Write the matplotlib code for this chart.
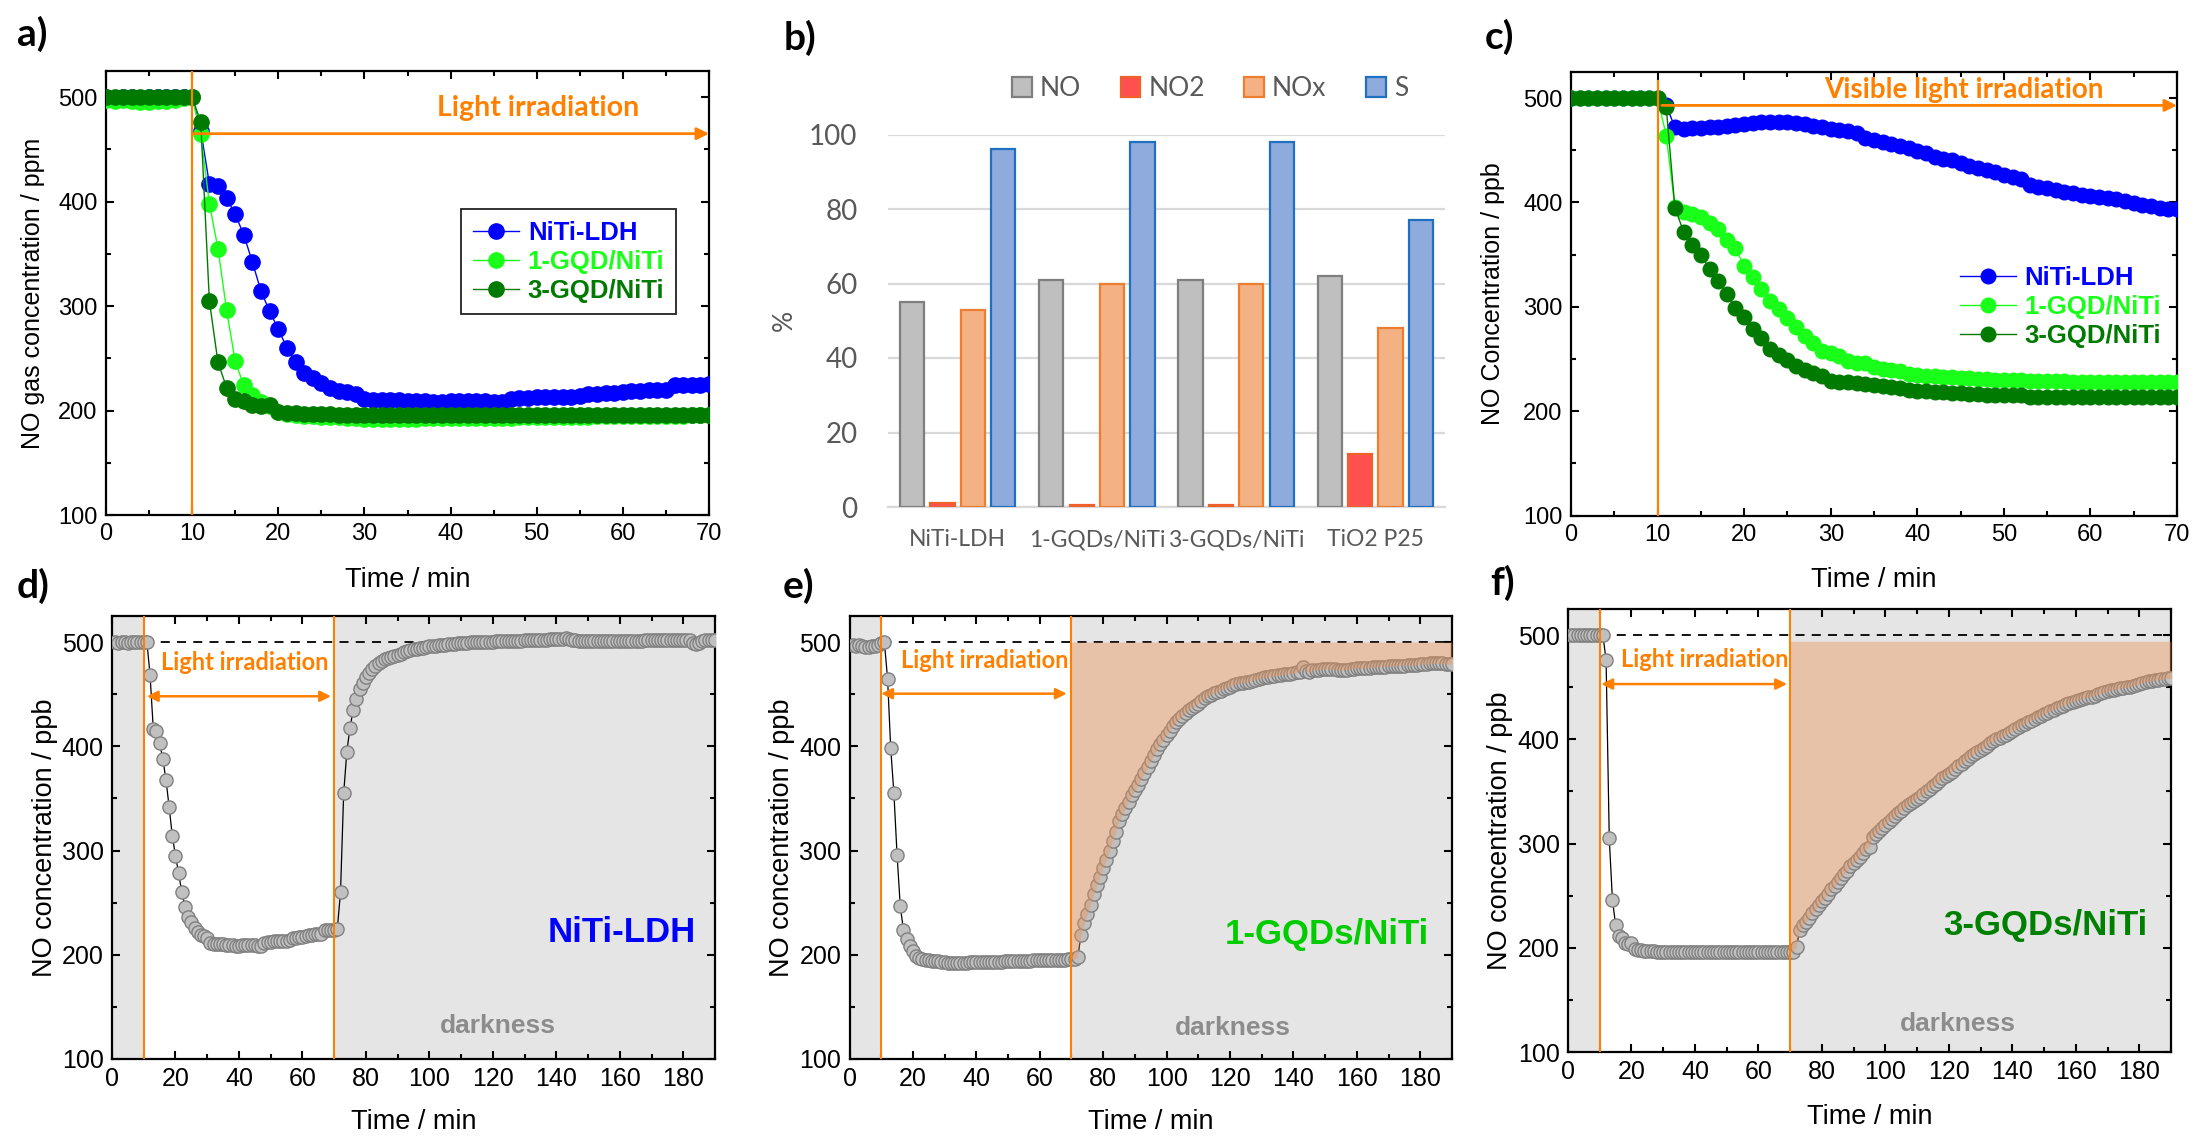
import numpy as np
import matplotlib
matplotlib.use("Agg")
import matplotlib.pyplot as plt
from matplotlib.ticker import MultipleLocator
from matplotlib.lines import Line2D
from matplotlib.patches import Patch
from matplotlib.font_manager import FontProperties

plt.rcParams['font.family'] = ['Liberation Sans', 'DejaVu Sans']

# ---------------------------------------------------------------- data
minutes = np.arange(0, 71)          # panels a and c (one reading per minute)
minutes_long = np.arange(1, 191)    # panels d, e, f

# a) NO gas concentration (ppm) under light irradiation
a_niti_ldh = [500, 499, 500, 500, 499, 500, 500, 500, 500, 500, 500,
              468, 417, 415, 403, 388, 368, 342, 314, 295, 278,
              260, 246, 236, 231, 226, 222, 219, 218, 216, 211,
              210, 210, 210, 210, 209, 209, 209, 208, 208, 209,
              209, 209, 209, 209, 208, 208, 211, 212, 212, 213,
              213, 213, 213, 213, 214, 216, 216, 217, 217, 218,
              219, 219, 220, 220, 220, 224, 224, 224, 224, 225]
a_1gqd = [497, 496, 497, 496, 495, 495, 496, 496, 497, 499, 500,
          465, 398, 355, 296, 247, 224, 215, 208, 204, 199,
          197, 196, 195, 195, 194, 194, 194, 193, 193, 192,
          192, 192, 192, 192, 192, 192, 193, 193, 193, 193,
          193, 193, 193, 193, 193, 193, 193, 194, 194, 194,
          194, 194, 194, 194, 194, 194, 195, 195, 195, 195,
          195, 195, 195, 195, 195, 195, 195, 196, 196, 196]
a_3gqd = [500, 500, 500, 500, 500, 500, 500, 500, 500, 500, 500,
          476, 305, 246, 222, 211, 209, 205, 204, 205, 199,
          198, 198, 197, 197, 197, 197, 196, 196, 196, 196,
          196, 196, 196, 196, 196, 196, 196, 196, 196, 196,
          196, 196, 196, 196, 196, 196, 196, 196, 196, 196,
          196, 196, 196, 196, 196, 196, 196, 196, 196, 196,
          196, 196, 196, 196, 196, 196, 196, 196, 196, 196]

# c) NO concentration (ppb) under visible light
c_niti_ldh = [500, 500, 500, 500, 500, 500, 500, 500, 500, 500, 500,
              493, 472, 470, 471, 471, 472, 472, 473, 474, 475,
              476, 477, 477, 477, 477, 476, 475, 473, 472, 470,
              469, 468, 467, 462, 460, 458, 456, 454, 452, 449,
              447, 444, 442, 441, 438, 435, 433, 431, 429, 426,
              424, 422, 417, 415, 414, 412, 410, 409, 407, 406,
              405, 404, 403, 401, 399, 398, 397, 395, 394, 394]
c_1gqd = [500, 500, 500, 500, 500, 500, 500, 500, 500, 500, 500,
          464, 396, 391, 389, 386, 380, 375, 364, 356, 339,
          329, 317, 306, 298, 289, 281, 272, 265, 258, 256,
          253, 248, 246, 246, 242, 240, 239, 238, 236, 235,
          234, 234, 233, 233, 232, 232, 231, 231, 230, 230,
          230, 230, 229, 229, 229, 229, 229, 228, 228, 228,
          228, 228, 228, 228, 228, 228, 228, 228, 228, 228]
c_3gqd = [500, 500, 500, 500, 500, 500, 500, 500, 500, 500, 500,
          491, 395, 372, 359, 350, 336, 325, 312, 299, 290,
          279, 270, 260, 254, 249, 243, 239, 237, 234, 229,
          228, 228, 227, 226, 225, 224, 223, 222, 220, 219,
          219, 218, 218, 217, 217, 216, 216, 215, 215, 215,
          215, 215, 214, 214, 214, 214, 214, 214, 214, 214,
          214, 214, 214, 214, 214, 214, 214, 214, 214, 214]

# d-f) recovery in darkness, minutes 72..190
dark_niti_ldh = [260, 355, 395, 418, 435, 445, 455, 461, 466,
                 470, 474, 477, 480, 482, 484, 485, 486, 487, 488,
                 489, 490, 491, 492, 493, 493.5, 494, 494.5, 495, 496,
                 496, 496.5, 497, 497, 497.5, 498, 498, 498.5, 499, 499,
                 499.5, 499.5, 500, 500, 500, 500, 500.5, 500.5, 500.5, 500.5,
                 501, 501, 501, 501, 501, 501, 501, 501, 501, 501.5,
                 501.5, 501.5, 501.5, 502, 502, 502, 502, 502.5, 502.5, 503,
                 503, 503, 504, 503, 502, 501.5, 501, 501, 501, 501,
                 501, 501, 501, 501, 501, 501, 501, 501, 501, 501,
                 501, 501, 501, 501, 501, 501, 501, 501.5, 501.5, 501.5,
                 501.5, 501.5, 501.5, 501.5, 501.5, 501.5, 501.5, 502, 502, 502,
                 502, 501.5, 499, 498.5, 499.5, 501, 501.5, 501.5, 501.5, 501.5]
dark_1gqd = [198, 219, 230, 239, 248, 258, 267, 275, 283,
             291, 300, 309, 318, 328, 335, 341, 347, 353, 358,
             363, 369, 374, 380, 386, 392, 397, 402, 406, 411,
             415, 419, 423, 426, 429, 432, 435, 437, 439, 441,
             443.5, 446, 448, 449.5, 451, 452, 453.5, 455, 456, 457,
             458.5, 460, 460.5, 461, 461.5, 462, 463, 464, 465, 465.5,
             466, 466.5, 467, 467.5, 468, 468.5, 469, 469.5, 469.5, 470,
             471, 471.5, 476, 472, 471, 473, 473.5, 473.5, 474, 474,
             474, 474, 474, 473.5, 473, 473.5, 473.5, 474, 474.5, 475,
             475, 475, 475, 475.5, 476, 476, 476.5, 476.5, 476.5, 477,
             477, 477, 477.5, 477.5, 477.5, 478, 478, 478, 478, 478.5,
             479, 479, 479.5, 479.5, 479.5, 480, 479.5, 479, 479, 479]
dark_3gqd = [201, 217, 222, 225, 229, 233, 237, 241, 245,
             248, 252, 256, 259, 263, 267, 271, 274, 278, 281,
             284, 287, 291, 295, 297, 306, 309, 312, 315, 318,
             321, 324, 326, 329, 331, 334, 336.5, 339, 341, 343,
             345, 347.5, 350, 352.5, 355, 357.5, 360, 362.5, 365, 367,
             369, 371.5, 374, 376.5, 379, 381.5, 384, 386, 388, 390,
             392, 394, 396, 398, 400, 401.5, 403, 404.5, 406, 407.5,
             409.5, 411.5, 413.5, 415, 416.5, 418, 419.5, 421, 422.5, 424,
             425.5, 427, 428.5, 430, 431, 432, 433.5, 435, 436, 437,
             438, 439, 440, 440.5, 441, 442, 443, 444, 445, 446,
             447, 447.5, 448, 449, 449.5, 450, 450.5, 451, 452, 453,
             454, 455, 455.5, 456, 456.5, 457, 457.5, 458, 458.5, 458.5]
stored_top_1gqd = 500
stored_top_3gqd = 494

# b) conversion / selectivity (%)
catalysts = ['NiTi-LDH', '1-GQDs/NiTi', '3-GQDs/NiTi', 'TiO2 P25']
no_conv = [55, 61, 61, 62]
no2_conv = [1.2, 0.6, 0.5, 14.2]
nox_conv = [53, 60, 60, 48]
selectivity = [96, 98, 98, 77]

series_names = ['NiTi-LDH', '1-GQD/NiTi', '3-GQD/NiTi']

# ---------------------------------------------------------------- style
BLUE = '#0000FF'
LIME = '#1AFF1A'
DGREEN = '#007A00'
ORANGE = '#FF8000'
BG_GRAY = '#E5E5E5'
XL_GRAY = '#595959'

W, H = 2208, 1136
fig = plt.figure(figsize=(W / 100, H / 100), dpi=100)


def px_axes(left, top, right, bottom):
    return fig.add_axes([left / W, 1 - bottom / H, (right - left) / W, (bottom - top) / H])


def origin_style(ax, xmajor, xminor, xmax, fs):
    ax.set_xlim(0, xmax)
    ax.set_ylim(100, 525)
    ax.xaxis.set_major_locator(MultipleLocator(xmajor))
    ax.xaxis.set_minor_locator(MultipleLocator(xminor))
    ax.yaxis.set_major_locator(MultipleLocator(100))
    ax.yaxis.set_minor_locator(MultipleLocator(50))
    ax.tick_params(which='both', direction='in', top=True, right=True, width=1.5,
                   labelsize=fs, pad=6)
    ax.tick_params(which='major', length=6)
    ax.tick_params(which='minor', length=3.5)
    for sp in ax.spines.values():
        sp.set_linewidth(1.6)


def panel_label(x, y, s):
    fig.text(x / W, 1 - y / H, s, ha='center', va='center', fontsize=28,
             fontweight='bold', family=['Lato', 'DejaVu Sans'])


# ---------------------------------------------------------------- a)
ax_a = px_axes(106, 71, 709, 515)
origin_style(ax_a, 10, 5, 70, 17)
for vals, col in zip([a_niti_ldh, a_1gqd, a_3gqd], [BLUE, LIME, DGREEN]):
    ax_a.plot(minutes, vals, '-o', color=col, lw=1, ms=11, mec=col, zorder=3)
ax_a.axvline(10, color=ORANGE, lw=1.6, zorder=4)
ax_a.annotate('', xy=(70, 465), xytext=(10, 465),
              arrowprops=dict(arrowstyle='-|>', color=ORANGE, lw=2,
                              mutation_scale=18, shrinkA=0, shrinkB=0), zorder=4)
ax_a.text(50.2, 489.6, 'Light irradiation', ha='center', va='center', color=ORANGE,
          fontsize=20.5, fontweight='bold', family=['Lato', 'DejaVu Sans'])
ax_a.set_xlabel('Time / min', fontsize=19.5, va='center')
ax_a.xaxis.set_label_coords(0.5, -0.146)
ax_a.set_ylabel('NO gas concentration / ppm', fontsize=18, va='center')
ax_a.yaxis.set_label_coords(-0.121, 0.5)

handles_a = [Line2D([], [], color=c, marker='o', ms=11, mec=c, lw=1)
             for c in [BLUE, LIME, DGREEN]]
leg_a = ax_a.legend(handles_a, series_names, loc='upper left',
                    bbox_to_anchor=(461 / W, 1 - 209 / H), bbox_transform=fig.transFigure,
                    frameon=True, fancybox=False, edgecolor='#222222', framealpha=1,
                    prop=FontProperties(family='Liberation Sans', weight='bold', size=18.5),
                    handlelength=1.8, handletextpad=0.35, borderpad=0.45, labelspacing=0.2,
                    borderaxespad=0)
leg_a.get_frame().set_linewidth(1.3)
for txt, c in zip(leg_a.get_texts(), [BLUE, LIME, DGREEN]):
    txt.set_color(c)

# ---------------------------------------------------------------- b)
ax_b = px_axes(888, 134.5, 1445, 507)
xpos = np.arange(len(catalysts))
bw = 0.174
step = 0.218
bar_specs = [(no_conv, '#BFBFBF', '#7F7F7F', 'NO'),
             (no2_conv, '#FF5050', '#F0602A', 'NO2'),
             (nox_conv, '#F4B183', '#ED7D31', 'NOx'),
             (selectivity, '#8FAADC', '#1F70C1', 'S')]
for k, (vals, fc, ec, lab) in enumerate(bar_specs):
    ax_b.bar(xpos + (k - 1.5) * step, vals, width=bw, color=fc, edgecolor=ec,
             linewidth=1.6, zorder=3, label=lab)
ax_b.set_xlim(-0.5, 3.5)
ax_b.set_ylim(0, 100)
ax_b.set_yticks(np.arange(0, 101, 20))
ax_b.yaxis.grid(True, color='#D9D9D9', lw=1.6)
ax_b.set_axisbelow(True)
for side in ['left', 'right', 'top']:
    ax_b.spines[side].set_visible(False)
ax_b.spines['bottom'].set_color('#D9D9D9')
ax_b.spines['bottom'].set_linewidth(1.6)
ax_b.set_xticks(xpos)
ax_b.set_xticklabels(catalysts)
ax_b.tick_params(axis='both', length=0, colors=XL_GRAY)
ax_b.tick_params(axis='y', pad=22)
ax_b.tick_params(axis='x', pad=16)
for lbl in ax_b.get_yticklabels():
    lbl.set_fontproperties(FontProperties(family='Lato', size=20))
for lbl in ax_b.get_xticklabels():
    lbl.set_fontproperties(FontProperties(family='Lato', size=16.5))
fig.text(784 / W, 1 - 320 / H, '%', rotation=90, ha='center', va='center',
         color=XL_GRAY, fontsize=19, family=['Lato', 'DejaVu Sans'])
handles_b = [Patch(facecolor=fc, edgecolor=ec, linewidth=1.6) for _, fc, ec, _ in bar_specs]
leg_b = ax_b.legend(handles_b, [s[3] for s in bar_specs], loc='center',
                    bbox_to_anchor=(1210 / W, 1 - 89 / H), bbox_transform=fig.transFigure,
                    ncol=4, frameon=False, handlelength=0.75, handleheight=0.8,
                    handletextpad=0.3, columnspacing=1.5,
                    prop=FontProperties(family='Lato', size=19))
for txt in leg_b.get_texts():
    txt.set_color(XL_GRAY)

# ---------------------------------------------------------------- c)
ax_c = px_axes(1571, 72, 2177, 515.5)
origin_style(ax_c, 10, 5, 70, 17)
for vals, col in zip([c_niti_ldh, c_1gqd, c_3gqd], [BLUE, LIME, DGREEN]):
    ax_c.plot(minutes, vals, '-o', color=col, lw=1, ms=10.5, mec=col, zorder=3)
ax_c.plot([10, 10], [100, 516], color=ORANGE, lw=1.6, zorder=4)
ax_c.annotate('', xy=(70, 493), xytext=(10.5, 493),
              arrowprops=dict(arrowstyle='-|>', color=ORANGE, lw=2,
                              mutation_scale=18, shrinkA=0, shrinkB=0), zorder=4)
ax_c.text(45.4, 507.7, 'Visible light irradiation', ha='center', va='center', color=ORANGE,
          fontsize=20, fontweight='bold', family=['Lato', 'DejaVu Sans'])
ax_c.set_xlabel('Time / min', fontsize=19.5, va='center')
ax_c.xaxis.set_label_coords(0.5, -0.146)
ax_c.set_ylabel('NO Concentration / ppb', fontsize=18, va='center')
ax_c.yaxis.set_label_coords(-0.129, 0.5)
handles_c = [Line2D([], [], color=c, marker='o', ms=10.5, mec=c, lw=1)
             for c in [BLUE, LIME, DGREEN]]
leg_c = ax_c.legend(handles_c, series_names, loc='upper left',
                    bbox_to_anchor=(1952 / W, 1 - 258 / H), bbox_transform=fig.transFigure,
                    frameon=False,
                    prop=FontProperties(family='Liberation Sans', weight='bold', size=18.5),
                    handlelength=2.2, handletextpad=0.3, borderpad=0.3, labelspacing=0.2,
                    borderaxespad=0)
for txt, c in zip(leg_c.get_texts(), [BLUE, LIME, DGREEN]):
    txt.set_color(c)


# ---------------------------------------------------------------- d) e) f)
def recovery_panel(ax, light_vals, dark_vals, name, name_color, name_xy,
                   light_xy, arrow_span, dark_xy, stored_top=None):
    origin_style(ax, 20, 10, 190, 18)
    vals = np.concatenate([np.asarray(light_vals, float), np.asarray(dark_vals, float)])
    ax.axvspan(0, 10, color=BG_GRAY, lw=0, zorder=0)
    ax.axvspan(70, 190, color=BG_GRAY, lw=0, zorder=0)
    ax.axhline(500, color='black', lw=1.3, ls=(0, (5, 4)), zorder=1)
    ax.plot(minutes_long, vals, '-', color='black', lw=0.9, zorder=2)
    ax.plot(minutes_long, vals, 'o', ms=9.5, mfc='#C0C0C0', mec='#808080', mew=1, zorder=3)
    if stored_top is not None:
        sel = minutes_long >= 70
        ax.fill_between(minutes_long[sel], vals[sel], stored_top, color='#EB9155',
                        alpha=0.42, lw=0, zorder=4)
    ax.axvline(10, color=ORANGE, lw=1.5, zorder=5)
    ax.axvline(70, color=ORANGE, lw=1.5, zorder=5)
    ax.annotate('', xy=(arrow_span[1], arrow_span[2]), xytext=(arrow_span[0], arrow_span[2]),
                arrowprops=dict(arrowstyle='<|-|>', color=ORANGE, lw=1.8,
                                mutation_scale=16, shrinkA=0, shrinkB=0), zorder=6)
    ax.text(light_xy[0], light_xy[1], 'Light irradiation', ha='center', va='center',
            color=ORANGE, fontsize=17, fontweight='bold', family=['Lato', 'DejaVu Sans'],
            zorder=6)
    ax.text(name_xy[0], name_xy[1], name, ha='center', va='center', color=name_color,
            fontsize=25, fontweight='bold', zorder=6)
    ax.text(dark_xy[0], dark_xy[1], 'darkness', ha='center', va='center', color='#8C8C8C',
            fontsize=19, fontweight='bold', zorder=6)
    ax.set_xlabel('Time / min', fontsize=19.5, va='center')
    ax.set_ylabel('NO concentration / ppb', fontsize=19.5, va='center')


ax_d = px_axes(112, 616, 715, 1059)
recovery_panel(ax_d, a_niti_ldh, dark_niti_ldh, 'NiTi-LDH', BLUE, (160.5, 221),
               (41.7, 480), (11, 69, 448), (121.7, 132))
ax_d.xaxis.set_label_coords(0.5, -0.142)
ax_d.yaxis.set_label_coords(-0.111, 0.5)

ax_e = px_axes(849.5, 616, 1452, 1059)
recovery_panel(ax_e, a_1gqd, dark_1gqd, '1-GQDs/NiTi', '#00CC00', (150.6, 219.5),
               (42.5, 482), (10, 68.5, 450.5), (120.8, 130), stored_top=stored_top_1gqd)
ax_e.xaxis.set_label_coords(0.5, -0.142)
ax_e.yaxis.set_label_coords(-0.112, 0.5)

ax_f = px_axes(1568, 609, 2171, 1052)
recovery_panel(ax_f, a_3gqd, dark_3gqd, '3-GQDs/NiTi', '#008000', (150.4, 221),
               (43, 477), (10.5, 69, 453), (123, 127), stored_top=stored_top_3gqd)
ax_f.xaxis.set_label_coords(0.5, -0.147)
ax_f.yaxis.set_label_coords(-0.112, 0.5)

# ---------------------------------------------------------------- panel letters
panel_label(32, 34, 'a)')
panel_label(800, 38, 'b)')
panel_label(1500, 37, 'c)')
panel_label(33, 586, 'd)')
panel_label(799, 586, 'e)')
panel_label(1503, 583, 'f)')

fig.savefig('out.png', dpi=100)
